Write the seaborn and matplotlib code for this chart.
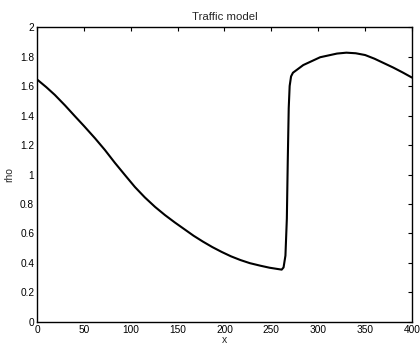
import matplotlib
matplotlib.use("Agg")
import matplotlib.pyplot as plt
import seaborn as sns
import pandas as pd

x_vals = [0, 10, 19, 30, 40.5, 50, 62, 72.5, 83, 94, 104.5, 115, 126, 136.5, 147,
          157, 167, 177, 187, 197, 207, 217, 227, 238, 248, 256, 261, 263, 265,
          266.5, 267.5, 268.5, 269.5, 271, 273, 284, 302, 320, 330, 340, 350,
          360, 370, 380, 390, 400]
rho_vals = [1.645, 1.592, 1.540, 1.468, 1.395, 1.330, 1.245, 1.166, 1.080, 0.995,
            0.915, 0.845, 0.780, 0.725, 0.675, 0.630, 0.585, 0.545, 0.508, 0.475,
            0.445, 0.420, 0.399, 0.382, 0.368, 0.360, 0.355, 0.37, 0.45, 0.70,
            1.10, 1.45, 1.60, 1.665, 1.69, 1.742, 1.795, 1.820, 1.826, 1.822,
            1.810, 1.785, 1.755, 1.725, 1.692, 1.657]
x_ticks = [0, 50, 100, 150, 200, 250, 300, 350, 400]
y_ticks = [0, 0.2, 0.4, 0.6, 0.8, 1, 1.2, 1.4, 1.6, 1.8, 2]
y_tick_labels = ["0", "0.2", "0.4", "0.6", "0.8", "1", "1.2", "1.4", "1.6", "1.8", "2"]

sns.set_style("white")
plt.rcParams["font.family"] = ["Liberation Sans", "DejaVu Sans"]

df = pd.DataFrame({"x": x_vals, "rho": rho_vals})

fig = plt.figure(figsize=(4.2, 3.45), dpi=100)
ax = fig.add_axes([0.088, 0.0667, 0.893, 0.855])
sns.lineplot(data=df, x="x", y="rho", ax=ax, color="black", linewidth=1.5,
             sort=False, estimator=None)
ax.set_xlim(0, 400)
ax.set_ylim(0, 2)
ax.set_xticks(x_ticks)
ax.set_xticklabels([str(v) for v in x_ticks])
ax.set_yticks(y_ticks)
ax.set_yticklabels(y_tick_labels)
ax.tick_params(direction="in", length=3, width=0.8, labelsize=7.3, pad=2,
               top=True, right=True, colors="black")
for s in ax.spines.values():
    s.set_color("black")
    s.set_linewidth(1.0)
ax.set_title("Traffic model", fontsize=8.2, pad=5)
ax.set_xlabel("x", fontsize=7.5, labelpad=0)
ax.set_ylabel("rho", fontsize=7.5, labelpad=4)
ax.grid(False)
fig.savefig("out.png", dpi=100)
